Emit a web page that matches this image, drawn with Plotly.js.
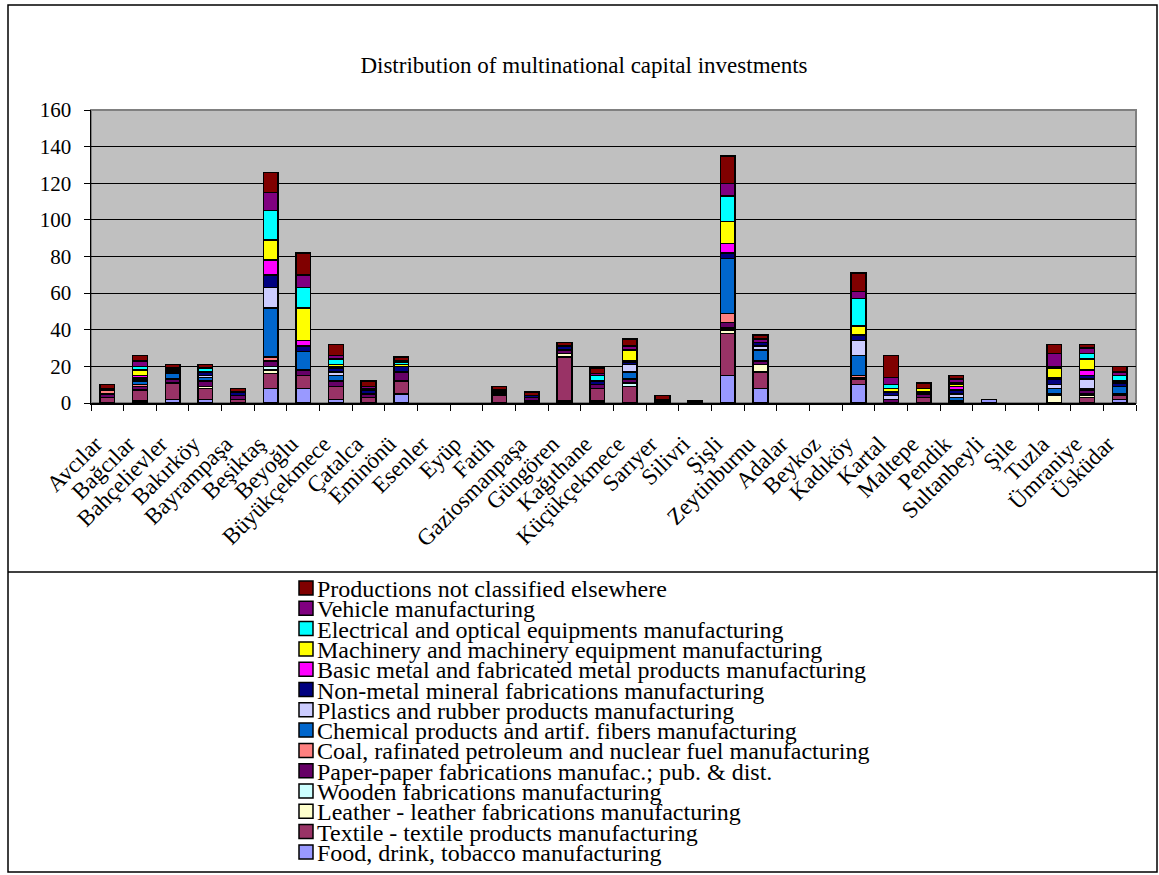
<!DOCTYPE html>
<html>
<head>
<meta charset="utf-8">
<script src="https://cdn.plot.ly/plotly-3.0.1.min.js"></script>
<style>html,body{margin:0;padding:0;background:#fff;}</style>
</head>
<body>
<div id="chart" style="width:1159px;height:875px;"></div>
<script>
// Categories (districts of Istanbul)
const districts = ["Avcılar","Bağcılar","Bahçelievler","Bakırköy","Bayrampaşa","Beşiktaş","Beyoğlu","Büyükçekmece","Çatalca","Eminönü","Esenler","Eyüp","Fatih","Gaziosmanpaşa","Güngören","Kağıthane","Küçükçekmece","Sarıyer","Silivri","Şişli","Zeytinburnu","Adalar","Beykoz","Kadıköy","Kartal","Maltepe","Pendik","Sultanbeyli","Şile","Tuzla","Ümraniye","Üsküdar"];

// Series values (stack order, bottom to top)
const food        = [0,1,2,2,0,8,8,2,0,5,0,0,0,1,1,1,0,0,0,15,8,0,0,10,0,0,0,2,0,0,0,2];
const textile     = [3,6,9,6,2,8,7,7,3,7,0,0,4,0,24,7,9,0,0,23,9,0,0,3,0,3,0,0,0,0,3,2];
const leather     = [0,0,0,1,0,2,0,0,0,0,0,0,0,0,2,0,0,0,0,2,4,0,0,0,0,0,0,0,0,4,1,0];
const wooden      = [0,0,0,0,0,2,0,0,0,0,0,0,0,0,0,0,2,0,0,1,0,0,0,0,0,0,0,0,0,0,1,0];
const paper       = [2,2,2,3,2,3,3,3,2,5,0,0,1,2,2,2,2,1,0,3,2,0,0,1,2,2,1,0,0,1,2,1];
const coal        = [2,1,0,0,0,2,0,0,0,0,0,0,0,0,0,0,0,0,0,5,0,0,0,1,0,0,0,0,0,0,0,0];
const chemical    = [0,2,3,2,0,27,10,3,0,0,0,0,1,0,0,0,4,0,0,30,6,0,0,11,0,0,2,0,0,3,1,4];
const plastics    = [0,1,0,1,0,11,0,2,0,0,0,0,0,0,0,0,4,0,0,0,2,0,0,8,2,0,2,0,0,2,5,0];
const nonMetal    = [1,1,1,2,2,7,3,2,2,3,0,0,1,1,2,2,1,1,0,3,2,0,0,3,2,1,2,0,0,3,2,2];
const basicMetal  = [0,1,1,0,0,8,3,1,0,0,0,0,0,0,0,0,1,0,0,5,0,0,0,0,0,0,2,0,0,1,3,0];
const machinery   = [0,3,1,0,0,11,18,1,1,1,0,0,0,0,0,0,6,0,0,12,0,0,0,5,2,2,1,0,0,5,6,1];
const electrical  = [0,2,0,2,0,16,11,3,0,1,0,0,0,0,0,3,0,0,0,14,0,0,0,15,2,0,1,0,0,1,3,3];
const vehicle     = [0,3,0,0,0,10,7,2,1,1,0,0,0,0,0,1,2,0,0,7,2,0,0,4,4,0,2,0,0,7,3,2];
const productions = [2,3,2,2,2,11,12,6,3,2,0,0,2,2,2,3,4,2,1,15,2,0,0,10,12,3,2,0,0,5,2,3];

const seriesNames = [
  "Food, drink, tobacco manufacturing",
  "Textile - textile products manufacturing",
  "Leather - leather fabrications manufacturing",
  "Wooden fabrications manufacturing",
  "Paper-paper fabrications manufac.; pub. & dist.",
  "Coal, rafinated petroleum and nuclear fuel manufacturing",
  "Chemical products and artif. fibers manufacturing",
  "Plastics and rubber products manufacturing",
  "Non-metal mineral fabrications manufacturing",
  "Basic metal and fabricated metal products manufacturing",
  "Machinery and machinery equipment manufacturing",
  "Electrical and optical equipments manufacturing",
  "Vehicle manufacturing",
  "Productions not classified elsewhere"
];
const seriesValues = [food, textile, leather, wooden, paper, coal, chemical, plastics, nonMetal, basicMetal, machinery, electrical, vehicle, productions];
const seriesColors = ["#9999FF","#993366","#FFFFCC","#CCFFFF","#660066","#FF8080","#0066CC","#CCCCFF","#000080","#FF00FF","#FFFF00","#00FFFF","#800080","#800000"];

const yTicks = [0,20,40,60,80,100,120,140,160];
const chartTitle = "Distribution of multinational capital investments";

// ---- layout geometry (pixels) ----
const W = 1159, H = 875;
const PL = 91, PR = 1136, PT = 110, PB = 403;
const px2x = p => (p - PL) / (PR - PL);
const py2y = p => (PB - p) / (PB - PT);
const FONT = "Liberation Serif, Times New Roman, serif";

const traces = seriesValues.map((vals, i) => ({
  type: "bar",
  name: seriesNames[i],
  x: districts,
  y: vals.map(v => (v === 0 ? null : v)),
  marker: {color: seriesColors[i], line: {color: "#000000", width: 1.5}},
  showlegend: false,
  hoverinfo: "skip"
}));

const shapes = [
  {type:"rect", xref:"paper", yref:"paper", x0:px2x(8), x1:px2x(1157), y0:py2y(872), y1:py2y(5),
   line:{color:"#000", width:1.5}, fillcolor:"rgba(0,0,0,0)", layer:"below"},
  {type:"line", xref:"paper", yref:"paper", x0:px2x(8), x1:px2x(1157), y0:py2y(572), y1:py2y(572),
   line:{color:"#000", width:1.5}},
  {type:"rect", xref:"paper", yref:"paper", x0:0, x1:1, y0:0, y1:1,
   line:{color:"#808080", width:2}, fillcolor:"rgba(0,0,0,0)", layer:"below"}
];
const annotations = [];
const legendTop = 588, legendStep = 20.3;
for (let k = 0; k < seriesNames.length; k++) {
  const i = seriesNames.length - 1 - k;
  const cy = legendTop + k * legendStep;
  shapes.push({type:"rect", xref:"paper", yref:"paper",
    x0:px2x(299), x1:px2x(313), y0:py2y(cy + 7), y1:py2y(cy - 7),
    fillcolor: seriesColors[i], line:{color:"#000", width:1.5}});
  annotations.push({xref:"paper", yref:"paper", x:px2x(316), y:py2y(cy + 1),
    xanchor:"left", yanchor:"middle", showarrow:false, borderpad:0, text: seriesNames[i],
    font:{family:FONT, size:24, color:"#000"}});
}

const layout = {
  width: W, height: H,
  margin: {l: PL, r: W - PR, t: PT, b: H - PB, pad: 0},
  paper_bgcolor: "#FFFFFF",
  plot_bgcolor: "#C0C0C0",
  barmode: "stack",
  bargap: 0.55,
  showlegend: false,
  title: {text: chartTitle, xref:"container", yref:"container", x: 584 / W, y: 1 - 65 / H,
          xanchor:"center", yanchor:"middle", font:{family:FONT, size:23, color:"#000"}},
  font: {family: FONT, color: "#000"},
  xaxis: {
    type: "category", tickson: "boundaries", ticks: "outside", ticklen: 6, tickcolor: "#000",
    showline: true, linecolor: "#000", linewidth: 1.5, showgrid: false,
    tickangle: -45, tickfont: {family: FONT, size: 23, color: "#000"},
    ticklabelstandoff: 17, ticklabelshift: -12, automargin: false
  },
  yaxis: {
    range: [0, 160], tickvals: yTicks, ticks: "outside", ticklen: 6, tickcolor: "#000",
    showline: true, linecolor: "#000", linewidth: 1.5,
    showgrid: true, gridcolor: "#000000", gridwidth: 1, zeroline: false,
    tickfont: {family: FONT, size: 21, color: "#000"}, ticklabelstandoff: 8, automargin: false
  },
  shapes: shapes,
  annotations: annotations,
  hovermode: false
};

Plotly.newPlot("chart", traces, layout, {displayModeBar: false, staticPlot: true});
</script>
</body>
</html>
